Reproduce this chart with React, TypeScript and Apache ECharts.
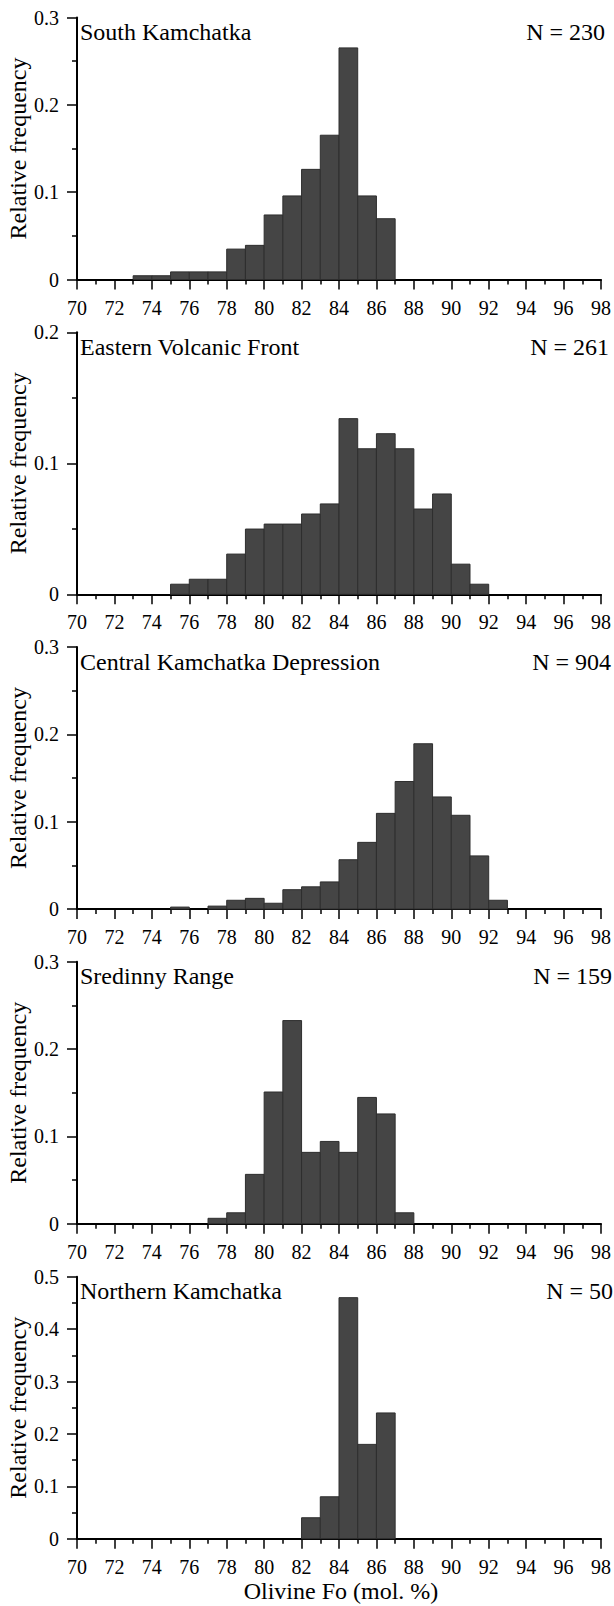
import React, { useEffect, useRef } from "react";
import * as echarts from "echarts";

// Bin lower edges (Fo mol. %), each bin is 1 unit wide
const binStarts = [70, 71, 72, 73, 74, 75, 76, 77, 78, 79, 80, 81, 82, 83, 84, 85, 86, 87, 88, 89, 90, 91, 92, 93, 94, 95, 96, 97];

// Relative frequencies per bin
const southKamchatka = [0, 0, 0, 0.0043, 0.0043, 0.0087, 0.0087, 0.0087, 0.0348, 0.0391, 0.0739, 0.0957, 0.1261, 0.1652, 0.2652, 0.0957, 0.0696, 0, 0, 0, 0, 0, 0, 0, 0, 0, 0, 0];
const easternVolcanicFront = [0, 0, 0, 0, 0, 0.0077, 0.0115, 0.0115, 0.0307, 0.0498, 0.0536, 0.0536, 0.0613, 0.069, 0.1341, 0.1111, 0.1226, 0.1111, 0.0651, 0.0766, 0.023, 0.0077, 0, 0, 0, 0, 0, 0];
const centralKamchatkaDepression = [0, 0, 0, 0, 0, 0.0022, 0, 0.0033, 0.01, 0.0122, 0.0066, 0.0221, 0.0254, 0.031, 0.0564, 0.0763, 0.1095, 0.146, 0.1892, 0.1283, 0.1073, 0.0608, 0.01, 0, 0, 0, 0, 0];
const sredinnyRange = [0, 0, 0, 0, 0, 0, 0, 0.0063, 0.0126, 0.0566, 0.1509, 0.2327, 0.0818, 0.0943, 0.0818, 0.1447, 0.1258, 0.0126, 0, 0, 0, 0, 0, 0, 0, 0, 0, 0];
const northernKamchatka = [0, 0, 0, 0, 0, 0, 0, 0, 0, 0, 0, 0, 0.04, 0.08, 0.46, 0.18, 0.24, 0, 0, 0, 0, 0, 0, 0, 0, 0, 0, 0];

const panelTitles = ["South Kamchatka", "Eastern Volcanic Front", "Central Kamchatka Depression", "Sredinny Range", "Northern Kamchatka"];
const panelCounts = ["N = 230", "N = 261", "N = 904", "N = 159", "N = 50"];
const panelValues = [southKamchatka, easternVolcanicFront, centralKamchatkaDepression, sredinnyRange, northernKamchatka];
const yMaxima = [0.3, 0.2, 0.3, 0.3, 0.5];

const xAxisTitle = "Olivine Fo (mol. %)";
const yAxisTitle = "Relative frequency";

const FONT = "'Liberation Serif', 'Times New Roman', serif";

export default function App() {
  const ref = useRef<HTMLDivElement>(null);

  useEffect(() => {
    document.body.style.margin = "0";
    const chart = echarts.init(ref.current!, null, { renderer: "svg" });

    const plotLeft = 77;
    const plotRight = 605;
    const gridH = 262;
    const tops = [17.5, 332.3, 647.0, 961.8, 1276.7];
    const nRight = [605, 609, 611, 612, 613];

    const grids = tops.map((t) => ({ left: plotLeft, width: plotRight - plotLeft, top: t, height: gridH }));

    const xAxes = tops.map((_, i) => ({
      type: "value",
      gridIndex: i,
      min: 70,
      max: 98,
      interval: 2,
      axisLine: { show: true, onZero: false, lineStyle: { color: "#000", width: 2 } },
      axisTick: { show: true, inside: false, length: 10, lineStyle: { color: "#000", width: 1.5 } },
      minorTick: { show: true, splitNumber: 2, length: 5, lineStyle: { color: "#000", width: 1.5 } },
      splitLine: { show: false },
      axisLabel: { show: true, margin: 18, color: "#000", fontFamily: FONT, fontSize: 20 },
    }));

    const yAxes = tops.map((_, i) => ({
      type: "value",
      gridIndex: i,
      min: 0,
      max: yMaxima[i],
      interval: 0.1,
      axisLine: { show: true, lineStyle: { color: "#000", width: 2 } },
      axisTick: { show: true, inside: false, length: 10, lineStyle: { color: "#000", width: 1.5 } },
      minorTick: { show: true, splitNumber: 2, length: 5, lineStyle: { color: "#000", width: 1.5 } },
      splitLine: { show: false },
      axisLabel: {
        show: true,
        margin: 18,
        color: "#000",
        fontFamily: FONT,
        fontSize: 20,
        formatter: (v: number) => (Math.abs(v) < 1e-9 ? "0" : v.toFixed(1)),
      },
    }));

    const series = panelValues.map((vals, i) => ({
      type: "custom",
      xAxisIndex: i,
      yAxisIndex: i,
      encode: { x: [0, 1], y: 2 },
      data: binStarts.map((b, k) => [b, b + 1, vals[k]]),
      renderItem: (_p: any, api: any) => {
        const x0 = api.value(0);
        const x1 = api.value(1);
        const v = api.value(2);
        if (!v) return null;
        const p0 = api.coord([x0, v]);
        const p1 = api.coord([x1, 0]);
        return {
          type: "rect",
          shape: { x: p0[0], y: p0[1], width: p1[0] - p0[0], height: p1[1] - p0[1] },
          style: { fill: "#454545", stroke: "#2e2e2e", lineWidth: 1 },
        };
      },
    }));

    const graphics: any[] = [];
    tops.forEach((t, i) => {
      graphics.push({
        type: "text",
        x: 80,
        y: t + 14.5,
        style: { text: panelTitles[i], fill: "#000", font: `24px ${FONT}`, textAlign: "left", textVerticalAlign: "middle" },
      });
      graphics.push({
        type: "text",
        x: nRight[i],
        y: t + 14.5,
        style: { text: panelCounts[i], fill: "#000", font: `24px ${FONT}`, textAlign: "right", textVerticalAlign: "middle" },
      });
      graphics.push({
        type: "text",
        x: 17.5,
        y: t + gridH / 2,
        rotation: Math.PI / 2,
        style: { text: yAxisTitle, fill: "#000", font: `24px ${FONT}`, textAlign: "center", textVerticalAlign: "middle" },
      });
    });
    graphics.push({
      type: "text",
      x: (plotLeft + plotRight) / 2,
      y: 1591,
      style: { text: xAxisTitle, fill: "#000", font: `24px ${FONT}`, textAlign: "center", textVerticalAlign: "middle" },
    });

    chart.setOption({
      animation: false,
      backgroundColor: "#fff",
      grid: grids,
      xAxis: xAxes,
      yAxis: yAxes,
      series,
      graphic: graphics,
    });

    return () => chart.dispose();
  }, []);

  return <div ref={ref} style={{ position: "absolute", left: 0, top: 0, width: 614, height: 1606 }} />;
}
